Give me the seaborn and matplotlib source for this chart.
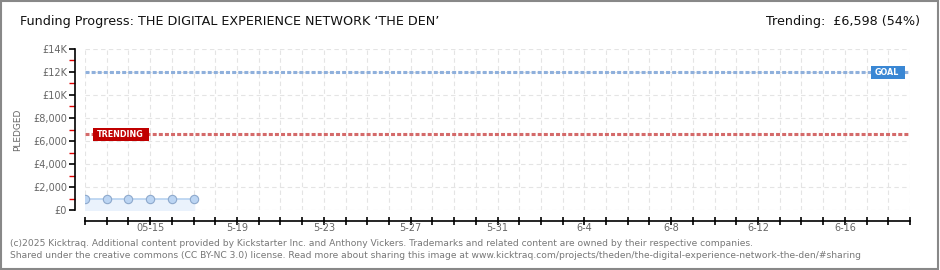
import matplotlib
matplotlib.use("Agg")
import matplotlib.pyplot as plt
import matplotlib.dates as mdates
from matplotlib.patches import Rectangle
import seaborn as sns
import pandas as pd
import numpy as np

# ---- data ----
dates = ["2025-05-12", "2025-05-13", "2025-05-14", "2025-05-15", "2025-05-16", "2025-05-17"]
pledged = [1000, 1000, 1000, 1000, 1000, 1000]
goal = 12000
trending = 6598
x_start, x_end = "2025-05-12", "2025-06-19"
label_dates = ["2025-05-15", "2025-05-19", "2025-05-23", "2025-05-27", "2025-05-31",
               "2025-06-04", "2025-06-08", "2025-06-12", "2025-06-16"]
label_texts = ["05-15", "5-19", "5-23", "5-27", "5-31", "6-4", "6-8", "6-12", "6-16"]
y_ticks = [0, 2000, 4000, 6000, 8000, 10000, 12000, 14000]
y_labels = ["£0", "£2,000", "£4,000", "£6,000", "£8,000", "£10K", "£12K", "£14K"]
title = "Funding Progress: THE DIGITAL EXPERIENCE NETWORK \u2018THE DEN\u2019"
trend_text = "Trending:  £6,598 (54%)"
footer1 = "(c)2025 Kicktraq. Additional content provided by Kickstarter Inc. and Anthony Vickers. Trademarks and related content are owned by their respective companies."
footer2 = "Shared under the creative commons (CC BY-NC 3.0) license. Read more about sharing this image at www.kicktraq.com/projects/theden/the-digital-experience-network-the-den/#sharing"

df = pd.DataFrame({"date": pd.to_datetime(dates), "pledged": pledged})

sns.set_style("ticks")
plt.rcParams["font.family"] = ["DejaVu Sans"]

fig = plt.figure(figsize=(9.4, 2.7), dpi=100)
fig.patch.set_facecolor("white")
ax = fig.add_axes([85/940, 1-210/270, (910-85)/940, (210-49)/270])

# fill and line
ax.fill_between(df["date"], 0, df["pledged"], color="#eaf2fc", zorder=1)
sns.lineplot(data=df, x="date", y="pledged", ax=ax, color="#b7d2f0", linewidth=1.2,
             marker="o", markersize=6, markerfacecolor="#bcd5f3",
             markeredgecolor="#8ea9cc", markeredgewidth=0.8, zorder=3)

# goal & trending
ax.axhline(goal, color="#8fb0dc", linestyle=(0, (1.3, 0.7)), linewidth=2.2, zorder=2)
ax.axhline(trending, color="#d46a6a", linestyle=(0, (1.3, 0.7)), linewidth=2.2, zorder=2)

xs = pd.to_datetime(x_start)
xe = pd.to_datetime(x_end)
ax.set_xlim(xs, xe)
ax.set_ylim(0, 14000)

# grid / ticks
ax.xaxis.set_major_locator(mdates.DayLocator())
ax.xaxis.set_major_formatter(matplotlib.ticker.NullFormatter())
ax.set_yticks(y_ticks)
ax.set_yticklabels(y_labels)
ax.set_yticks([1000, 3000, 5000, 7000, 9000, 11000, 13000], minor=True)
ax.grid(True, which="major", color="#e4e4e4", linestyle=(0, (4, 3)), linewidth=0.8)
ax.set_axisbelow(True)

def tag(xpix, ypix, w, h, text, fc):
    r = Rectangle((xpix/940, 1-(ypix+h)/270), w/940, h/270, transform=fig.transFigure,
                  facecolor=fc, edgecolor="none", zorder=5)
    fig.patches.append(r)
    fig.text((xpix + 4)/940, 1-(ypix+h/2)/270, text, color="white", fontsize=5.8,
             fontweight="bold", va="center", ha="left", zorder=6)

tag(93, 128, 56, 13, "TRENDING", "#c00000")
tag(871, 66, 34, 13, "GOAL", "#3a87d4")

# spines
for s in ["top", "right"]:
    ax.spines[s].set_visible(False)
ax.spines["left"].set_position(("outward", 7))
ax.spines["bottom"].set_position(("outward", 8))
for s in ["left", "bottom"]:
    ax.spines[s].set_color("black")
    ax.spines[s].set_linewidth(1.2)

ax.tick_params(axis="y", which="major", left=True, length=4, width=1.2, color="black",
               labelsize=7, labelcolor="#666666", pad=2, direction="out")
ax.tick_params(axis="y", which="minor", left=True, length=4, width=1, color="#e00000", direction="out")
ax.tick_params(axis="x", which="major", bottom=True, length=6, width=1.2, color="black", direction="inout")

for d, t in zip(label_dates, label_texts):
    ax.annotate(t, xy=(mdates.date2num(pd.to_datetime(d)), 0), xycoords=("data", "axes fraction"),
                xytext=(0, -9.5), textcoords="offset points", ha="center", va="top",
                fontsize=7, color="#666666")

ax.set_xlabel("")
ax.set_ylabel("PLEDGED", fontsize=6.5, color="#666666", labelpad=8)

# texts
fig.text(20/940, 1-22/270, title, fontsize=9.2, color="#111111", va="center", ha="left")
fig.text(920/940, 1-22/270, trend_text, fontsize=9.2, color="#111111", va="center", ha="right")
fig.text(10/940, 1-243/270, footer1, fontsize=6.6, color="#777777", va="center", ha="left")
fig.text(10/940, 1-255/270, footer2, fontsize=6.6, color="#777777", va="center", ha="left")

# border
fig.patches.append(Rectangle((0.001, 0.002), 0.997, 0.995, transform=fig.transFigure,
                             fill=False, edgecolor="#888888", linewidth=1.5))

fig.savefig("out.png", dpi=100)
